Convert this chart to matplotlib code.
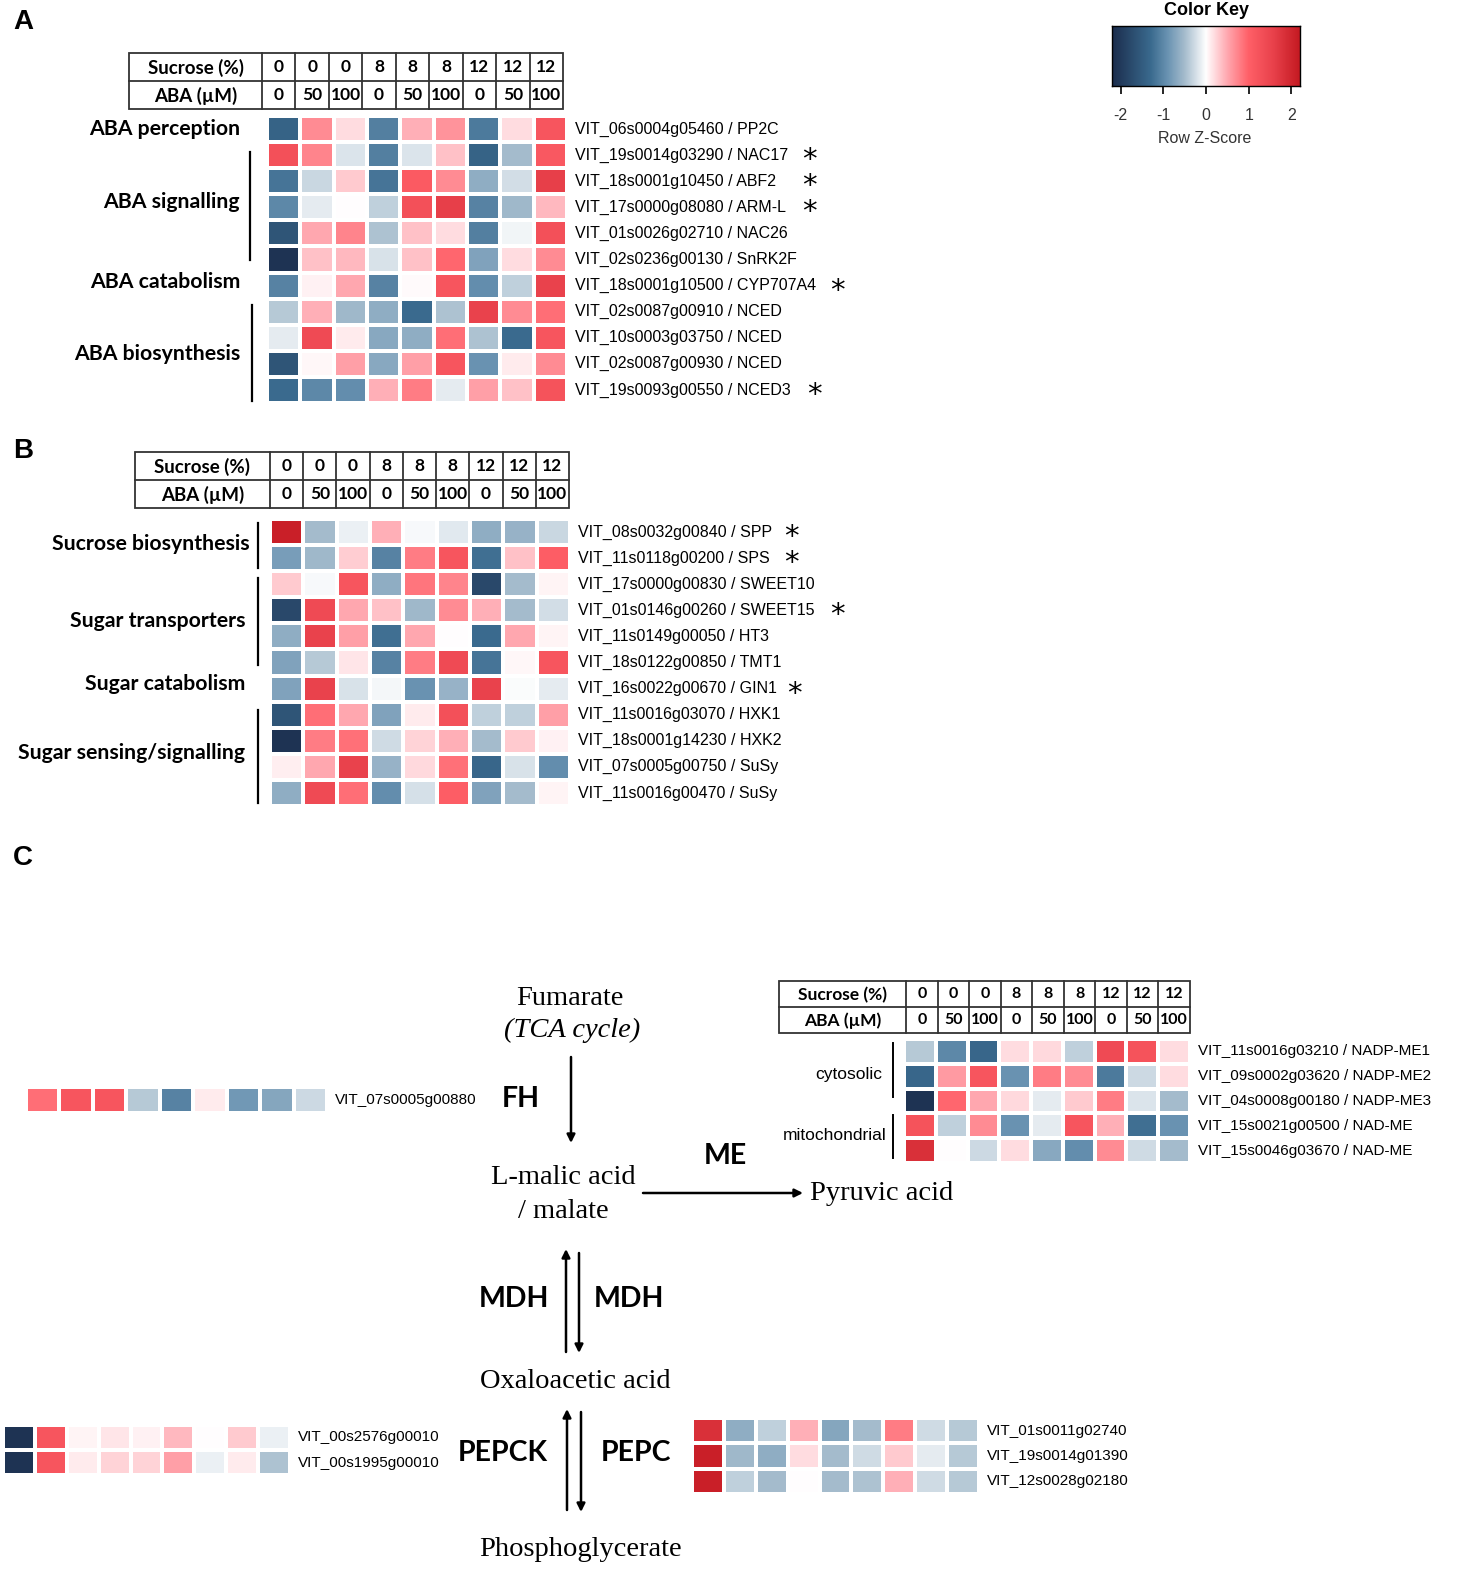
import numpy as np
import matplotlib
matplotlib.use("Agg")
import matplotlib.pyplot as plt
from matplotlib.colors import LinearSegmentedColormap, Normalize
from matplotlib.patches import Rectangle

W, H = 1460, 1594

# ---------------- data ----------------
sucrose = ['0', '0', '0', '8', '8', '8', '12', '12', '12']
aba = ['0', '50', '100', '0', '50', '100', '0', '50', '100']

groups_A = ['ABA perception', 'ABA signalling', 'ABA catabolism', 'ABA biosynthesis']
genes_A = ['VIT_06s0004g05460 / PP2C', 'VIT_19s0014g03290 / NAC17', 'VIT_18s0001g10450 / ABF2',
           'VIT_17s0000g08080 / ARM-L', 'VIT_01s0026g02710 / NAC26', 'VIT_02s0236g00130 / SnRK2F',
           'VIT_18s0001g10500 / CYP707A4', 'VIT_02s0087g00910 / NCED', 'VIT_10s0003g03750 / NCED',
           'VIT_02s0087g00930 / NCED', 'VIT_19s0093g00550 / NCED3']
star_A = [False, True, True, True, False, False, True, False, False, False, True]
z_A = [
    [-1.4, 0.70, 0.20, -1.10, 0.45, 0.65, -1.15, 0.20, 1.20],
    [1.30, 0.75, -0.20, -1.10, -0.20, 0.35, -1.40, -0.50, 1.15],
    [-1.20, -0.30, 0.30, -1.20, 1.10, 0.70, -0.65, -0.25, 1.60],
    [-1.00, -0.15, 0.00, -0.35, 1.30, 1.60, -1.05, -0.55, 0.40],
    [-1.60, 0.50, 0.75, -0.45, 0.35, 0.20, -1.10, -0.07, 1.30],
    [-2.10, 0.35, 0.40, -0.22, 0.35, 0.95, -0.75, 0.20, 0.70],
    [-1.05, 0.07, 0.50, -1.05, 0.03, 1.20, -0.95, -0.35, 1.55],
    [-0.40, 0.45, -0.55, -0.65, -1.30, -0.45, 1.55, 0.70, 0.90],
    [-0.15, 1.40, 0.12, -0.70, -0.65, 0.90, -0.45, -1.30, 1.20],
    [-1.60, 0.05, 0.55, -0.70, 0.55, 1.20, -0.90, 0.12, 0.70],
    [-1.30, -1.00, -0.95, 0.45, 0.80, -0.15, 0.55, 0.35, 1.25],
]

groups_B = ['Sucrose biosynthesis', 'Sugar transporters', 'Sugar catabolism', 'Sugar sensing/signalling']
genes_B = ['VIT_08s0032g00840 / SPP', 'VIT_11s0118g00200 / SPS', 'VIT_17s0000g00830 / SWEET10',
           'VIT_01s0146g00260 / SWEET15', 'VIT_11s0149g00050 / HT3', 'VIT_18s0122g00850 / TMT1',
           'VIT_16s0022g00670 / GIN1', 'VIT_11s0016g03070 / HXK1', 'VIT_18s0001g14230 / HXK2',
           'VIT_07s0005g00750 / SuSy', 'VIT_11s0016g00470 / SuSy']
star_B = [True, True, False, True, False, False, True, False, False, False, False]
z_B = [
    [2.10, -0.50, -0.12, 0.45, -0.04, -0.17, -0.65, -0.60, -0.30],
    [-0.80, -0.55, 0.28, -1.05, 0.80, 1.20, -1.25, 0.35, 1.05],
    [0.30, -0.05, 1.20, -0.65, 0.85, 0.75, -1.80, -0.50, 0.06],
    [-1.80, 1.40, 0.50, 0.35, -0.55, 0.70, 0.45, -0.50, -0.25],
    [-0.65, 1.55, 0.55, -1.25, 0.50, 0.00, -1.30, 0.50, 0.06],
    [-0.75, -0.40, 0.15, -1.05, 0.80, 1.40, -1.20, 0.05, 1.20],
    [-0.75, 1.55, -0.22, -0.06, -0.90, -0.60, 1.55, -0.02, -0.15],
    [-1.60, 0.90, 0.50, -0.75, 0.12, 1.30, -0.35, -0.35, 0.55],
    [-2.10, 0.80, 0.88, -0.27, 0.25, 0.45, -0.50, 0.30, 0.07],
    [0.10, 0.50, 1.55, -0.60, 0.22, 0.88, -1.35, -0.22, -0.95],
    [-0.65, 1.40, 0.90, -0.95, -0.23, 1.05, -0.75, -0.50, 0.06],
]

gene_FH = ['VIT_07s0005g00880']
z_FH = [[0.90, 1.20, 1.20, -0.40, -1.05, 0.12, -0.85, -0.72, -0.28]]

groups_ME = ['cytosolic', 'mitochondrial']
genes_ME = ['VIT_11s0016g03210 / NADP-ME1', 'VIT_09s0002g03620 / NADP-ME2', 'VIT_04s0008g00180 / NADP-ME3',
            'VIT_15s0021g00500 / NAD-ME', 'VIT_15s0046g03670 / NAD-ME']
z_ME = [
    [-0.40, -1.00, -1.35, 0.20, 0.22, -0.35, 1.40, 1.25, 0.20],
    [-1.35, 0.60, 1.20, -0.90, 0.80, 0.70, -1.15, -0.28, 0.20],
    [-2.10, 0.95, 0.50, 0.22, -0.15, 0.30, 0.80, -0.20, -0.50],
    [1.25, -0.35, 0.70, -0.90, -0.15, 1.20, 0.45, -1.25, -0.90],
    [1.85, 0.00, -0.28, 0.20, -0.70, -0.95, 0.70, -0.27, -0.50],
]

genes_PEPCK = ['VIT_00s2576g00010', 'VIT_00s1995g00010']
z_PEPCK = [
    [-2.10, 1.20, 0.06, 0.15, 0.08, 0.40, 0.00, 0.30, -0.12],
    [-2.10, 1.20, 0.12, 0.25, 0.25, 0.55, -0.12, 0.12, -0.45],
]

genes_PEPC = ['VIT_01s0011g02740', 'VIT_19s0014g01390', 'VIT_12s0028g02180']
z_PEPC = [
    [1.85, -0.65, -0.35, 0.45, -0.72, -0.50, 0.80, -0.27, -0.40],
    [2.10, -0.55, -0.65, 0.20, -0.50, -0.27, 0.30, -0.15, -0.40],
    [2.10, -0.35, -0.50, 0.00, -0.50, -0.45, 0.45, -0.27, -0.40],
]

key_ticks = [-2, -1, 0, 1, 2]

# ---------------- style ----------------
zmin, zmax = -2.2, 2.2
nodes = [(-2.2, '#1b2d4d'), (-1.3, '#3a6a8e'), (-0.9, '#6a93b2'), (-0.5, '#a5bccd'),
         (0.0, '#ffffff'), (0.5, '#ffa8b0'), (1.0, '#ff6068'), (1.6, '#e8404a'), (2.2, '#c41a22')]
cmap = LinearSegmentedColormap.from_list(
    'rz', [((v - zmin) / (zmax - zmin), c) for v, c in nodes])
norm = Normalize(zmin, zmax)

SANS = ['Liberation Sans', 'DejaVu Sans']
BOLD = ['Lato', 'DejaVu Sans']
SERIF = ['Liberation Serif', 'DejaVu Serif']

fig = plt.figure(figsize=(W / 100, H / 100), dpi=100)
bg = fig.add_axes([0, 0, 1, 1])
bg.set_xlim(0, W)
bg.set_ylim(H, 0)
bg.axis('off')


def px_axes(x0, y0, x1, y1):
    return fig.add_axes([x0 / W, 1 - y1 / H, (x1 - x0) / W, (y1 - y0) / H])


def heat(x0, y0, x1, y1, data, labels, lx, fs=11.5):
    arr = np.array(data)
    ax = px_axes(x0, y0, x1, y1)
    ax.pcolormesh(arr, cmap=cmap, norm=norm, edgecolors='white', linewidth=1.6)
    ax.set_xlim(0, arr.shape[1])
    ax.set_ylim(arr.shape[0], 0)
    ax.axis('off')
    rh = (y1 - y0) / arr.shape[0]
    centers = [y0 + (i + 0.5) * rh for i in range(arr.shape[0])]
    for lab, yc in zip(labels, centers):
        bg.text(lx, yc, lab, family=SANS, fontsize=fs, va='center', ha='left')
    return centers


def table(x0, xlab, x1, y0, ym, y1, fs=13.5):
    lw = 1.3
    bg.add_patch(Rectangle((x0, y0), x1 - x0, y1 - y0, fill=False, lw=lw, ec='#333333'))
    bg.plot([x0, x1], [ym, ym], color='#333333', lw=lw)
    edges = np.linspace(xlab, x1, len(sucrose) + 1)
    for e in edges[:-1]:
        bg.plot([e, e], [y0, y1], color='#333333', lw=lw)
    bg.text((x0 + xlab) / 2, (y0 + ym) / 2 + 1, 'Sucrose (%)', family=BOLD, weight='bold',
            fontsize=fs, ha='center', va='center')
    bg.text((x0 + xlab) / 2, (ym + y1) / 2 + 1, 'ABA (µM)', family=BOLD, weight='bold',
            fontsize=fs, ha='center', va='center')
    for i in range(len(sucrose)):
        xc = (edges[i] + edges[i + 1]) / 2
        bg.text(xc, (y0 + ym) / 2, sucrose[i], family=BOLD, weight='bold', fontsize=fs - 1,
                ha='center', va='center')
        bg.text(xc, (ym + y1) / 2, aba[i], family=BOLD, weight='bold', fontsize=fs - 1,
                ha='center', va='center')


def star(x, y):
    bg.text(x, y + 5, '*', family=['DejaVu Sans'], fontsize=21, ha='center', va='center')


def arrow(x0, y0, x1, y1):
    bg.annotate('', xy=(x1, y1), xytext=(x0, y0),
                arrowprops=dict(arrowstyle='-|>', lw=1.8, color='black', mutation_scale=12,
                                shrinkA=0, shrinkB=0))


# ---------------- panel letters ----------------
for lab, (x, y) in zip(['A', 'B', 'C'], [(13, 22), (13, 451), (13, 858)]):
    bg.text(x, y, lab, family=['Liberation Sans'], weight='bold', fontsize=20, ha='left', va='center')

# ---------------- panel A ----------------
table(129, 262, 563, 53, 81, 109)
cA = heat(267, 116, 567, 403, z_A, genes_A, 575)
gyA = [129, 202, 282, 354]
for g, y in zip(groups_A, gyA):
    bg.text(240, y, g, family=BOLD, weight='bold', fontsize=15.3, ha='right', va='center')
bg.plot([250, 250], [152, 260], color='black', lw=1.6)
bg.plot([252, 252], [305, 401], color='black', lw=1.6)
starx_A = [809, 809, 809, 809, 809, 809, 837, 809, 809, 809, 814]
for s, yc, sx in zip(star_A, cA, starx_A):
    if s:
        star(sx, yc)

# ---------------- panel B ----------------
table(135, 270, 569, 452, 480, 508)
cB = heat(270, 519, 570, 806, z_B, genes_B, 578)
gyB = [544, 621, 684, 753]
gxB = [250, 245, 245, 245]
for g, x, y in zip(groups_B, gxB, gyB):
    bg.text(x, y, g, family=BOLD, weight='bold', fontsize=15.3, ha='right', va='center')
bg.plot([258, 258], [523, 568], color='black', lw=1.6)
bg.plot([258, 258], [578, 665], color='black', lw=1.6)
bg.plot([258, 258], [710, 803], color='black', lw=1.6)
starx_B = [791, 791, 837, 837, 837, 837, 794, 837, 837, 837, 837]
for s, yc, sx in zip(star_B, cB, starx_B):
    if s:
        star(sx, yc)

# ---------------- colour key ----------------
kax = px_axes(1112, 26, 1300, 86)
grad = np.linspace(zmin, zmax, 400)[None, :]
kax.imshow(grad, cmap=cmap, norm=norm, aspect='auto', extent=[zmin, zmax, 0, 1])
kax.set_yticks([])
kax.set_xticks(key_ticks)
kax.set_xticklabels([str(t) for t in key_ticks], family=SANS, fontsize=11.5, color='#333333')
kax.tick_params(axis='x', length=6, width=1.2, pad=10)
for sp in kax.spines.values():
    sp.set_linewidth(1.0)
bg.text(1206, 10, 'Color Key', family=SANS, weight='bold', fontsize=13, ha='center', va='center')
bg.text(1205, 138, 'Row Z-Score', family=SANS, fontsize=11.5, ha='center', va='center', color='#333333')

# ---------------- panel C ----------------
table(779, 906, 1190, 981, 1007, 1033, fs=12.5)
cME = heat(904, 1039, 1190, 1163, z_ME, genes_ME, 1198, fs=11)
bg.text(882, 1075, groups_ME[0], family=SANS, fontsize=12.5, ha='right', va='center')
bg.text(887, 1135, groups_ME[1], family=SANS, fontsize=12.5, ha='right', va='center')
bg.plot([893, 893], [1043, 1097], color='black', lw=1.4)
bg.plot([893, 893], [1115, 1158], color='black', lw=1.4)

heat(26, 1087, 327, 1113, z_FH, gene_FH, 335, fs=11)
heat(3, 1425, 290, 1475, z_PEPCK, genes_PEPCK, 298, fs=11)
heat(692, 1418, 979, 1494, z_PEPC, genes_PEPC, 987, fs=11)

# metabolites
SF = 20.5
bg.text(570, 998, 'Fumarate', family=SERIF, fontsize=SF, ha='center', va='center')
bg.text(572, 1030, '(TCA cycle)', family=SERIF, style='italic', fontsize=SF, ha='center', va='center')
bg.text(563, 1177, 'L-malic acid', family=SERIF, fontsize=SF, ha='center', va='center')
bg.text(563, 1211, '/ malate', family=SERIF, fontsize=SF, ha='center', va='center')
bg.text(810, 1194, 'Pyruvic acid', family=SERIF, fontsize=SF, ha='left', va='center')
bg.text(575, 1381, 'Oxaloacetic acid', family=SERIF, fontsize=SF, ha='center', va='center')
bg.text(580, 1550, 'Phosphoglycerate', family=SERIF, fontsize=SF, ha='center', va='center')

# enzymes
for lab, x, y in [('FH', 521, 1099), ('ME', 725, 1156), ('MDH', 514, 1299), ('MDH', 629, 1299),
                  ('PEPCK', 503, 1453), ('PEPC', 636, 1453)]:
    bg.text(x, y, lab, family=BOLD, weight='bold', fontsize=20.5, ha='center', va='center')

# arrows
arrow(571, 1057, 571, 1143)
arrow(643, 1193, 803, 1193)
arrow(566, 1352, 566, 1249)
arrow(579, 1253, 579, 1353)
arrow(567, 1510, 567, 1409)
arrow(581, 1412, 581, 1512)

fig.savefig('out.png', dpi=100)
